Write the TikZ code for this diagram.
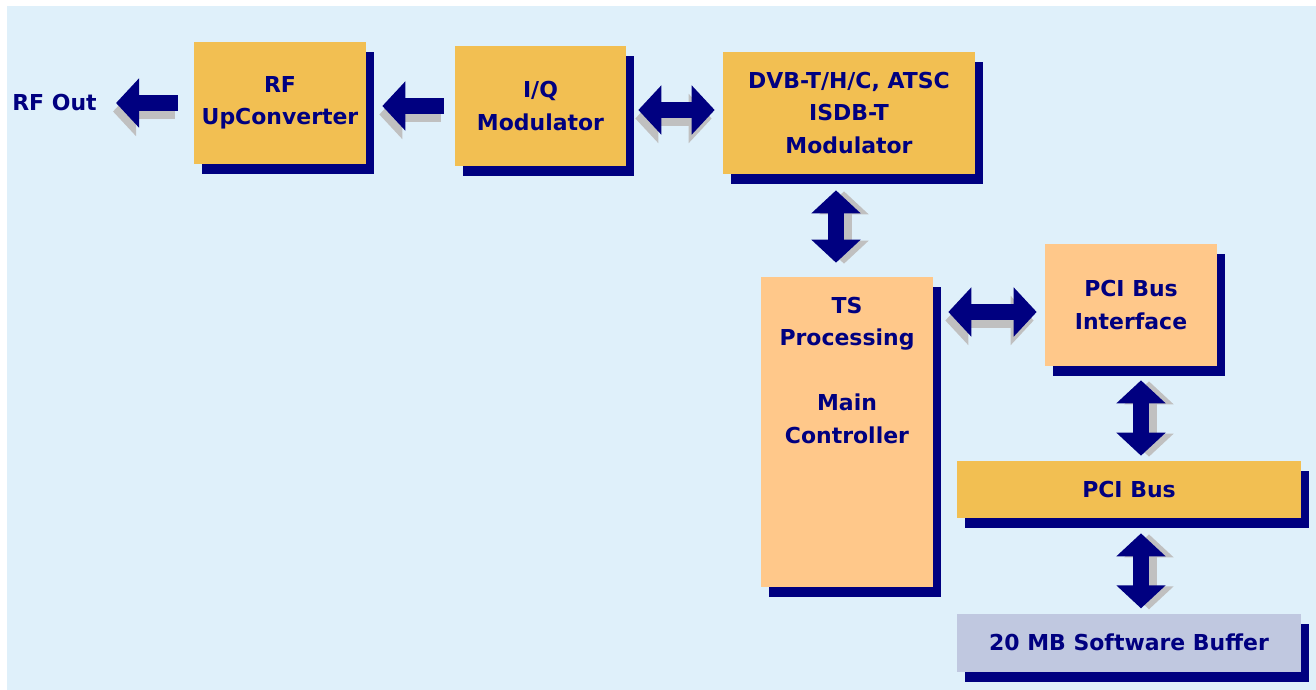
\documentclass[tikz,border=0pt]{standalone}
\usepackage{fontspec}
\setmainfont{DejaVu Sans}
\usetikzlibrary{positioning,shadows,arrows.meta}

\definecolor{navyblue}{RGB}{0,0,128}
\definecolor{boxgold}{RGB}{242,191,82}
\definecolor{boxpeach}{RGB}{255,200,138}
\definecolor{boxlilac}{RGB}{192,200,224}
\definecolor{shadegrey}{RGB}{192,192,192}
\definecolor{bgblue}{RGB}{223,240,250}

\begin{document}
\begin{tikzpicture}[x=0.02cm, y=-0.02cm,
                    label/.style={text=navyblue, font=\bfseries\fontsize{12.5}{18.5}\selectfont, align=center, inner sep=0pt},
                    box/.style={label, drop shadow={shadow xshift=0.16cm, shadow yshift=-0.2cm, fill=navyblue, opacity=1}},
                    gold/.style={box, fill=boxgold},
                    peach/.style={box, fill=boxpeach},
                    lilac/.style={box, fill=boxlilac},
                    onearrow/.style={line width=0.31cm, -{Triangle[width=0.96cm,length=0.46cm]}},
                    twoarrow/.style={line width=0.31cm, {Triangle[width=0.96cm,length=0.46cm]}-{Triangle[width=0.96cm,length=0.46cm]}},
                    hshade/.style={shadegrey, transform canvas={shift={(-0.06cm,-0.17cm)}}},
                    vshade/.style={shadegrey, transform canvas={shift={(0.16cm,-0.02cm)}}},
                ]
                %Background
                \fill[white]  (0,0) rectangle (1316,690);
                \fill[bgblue] (7,6) rectangle (1316,690);

                %Nodes
                \node[label]  (rfout) at (54.5,103)  {RF Out};
                \node[gold, minimum width=3.44cm, minimum height=2.44cm]  (rf)  at (280,103)   {RF\\UpConverter};
                \node[gold, minimum width=3.42cm, minimum height=2.4cm]   (iq)  at (540.5,106) {I/Q\\Modulator};
                \node[gold, minimum width=5.04cm, minimum height=2.44cm]  (dvb) at (849,113)   {DVB-T/H/C, ATSC\\ISDB-T\\Modulator};
                \node[peach, minimum width=3.44cm, minimum height=6.2cm]  (ts)  at (847,432)   {};
                \node[label, anchor=north] (tstext) [below=0.4cm of ts.north] {TS\\Processing\\[18.5pt]Main\\Controller};
                \node[peach, minimum width=3.44cm, minimum height=2.44cm] (pif) at (1131,305)  {PCI Bus\\Interface};
                \node[gold, minimum width=6.88cm, minimum height=1.14cm]  (bus) at (1129,489.5) {PCI Bus};
                \node[lilac, minimum width=6.88cm, minimum height=1.16cm] (buf) [below=1.9cm of bus] {20 MB Software Buffer};

                %Arrows
                \draw[onearrow, hshade, shorten <=0.32cm] (rf.west) -- ([xshift=0.38cm]rfout.east);
                \draw[onearrow, navyblue, shorten <=0.32cm] (rf.west) -- ([xshift=0.38cm]rfout.east);
                \draw[onearrow, hshade, shorten <=0.22cm, shorten >=0.32cm] (iq.west) -- (iq.west -| rf.east);
                \draw[onearrow, navyblue, shorten <=0.22cm, shorten >=0.32cm] (iq.west) -- (iq.west -| rf.east);
                \draw[twoarrow, hshade, shorten <=0.24cm, shorten >=0.16cm] ([yshift=-0.08cm]iq.east) -- ([yshift=-0.08cm]iq.east -| dvb.west);
                \draw[twoarrow, navyblue, shorten <=0.24cm, shorten >=0.16cm] ([yshift=-0.08cm]iq.east) -- ([yshift=-0.08cm]iq.east -| dvb.west);
                \draw[twoarrow, vshade, shorten <=0.28cm, shorten >=0.32cm] ([xshift=-0.22cm]ts.north) -- ([xshift=-0.22cm]ts.north |- dvb.south);
                \draw[twoarrow, navyblue, shorten <=0.28cm, shorten >=0.32cm] ([xshift=-0.22cm]ts.north) -- ([xshift=-0.22cm]ts.north |- dvb.south);
                \draw[twoarrow, hshade, shorten <=0.16cm, shorten >=0.3cm] ([yshift=-0.14cm]pif.west) -- ([yshift=-0.14cm]pif.west -| ts.east);
                \draw[twoarrow, navyblue, shorten <=0.16cm, shorten >=0.3cm] ([yshift=-0.14cm]pif.west) -- ([yshift=-0.14cm]pif.west -| ts.east);
                \draw[twoarrow, vshade, shorten <=0.28cm, shorten >=0.1cm] ([xshift=0.2cm]pif.south) -- ([xshift=0.2cm]pif.south |- bus.north);
                \draw[twoarrow, navyblue, shorten <=0.28cm, shorten >=0.1cm] ([xshift=0.2cm]pif.south) -- ([xshift=0.2cm]pif.south |- bus.north);
                \draw[twoarrow, vshade, shorten <=0.3cm, shorten >=0.1cm] ([xshift=0.24cm]bus.south) -- ([xshift=0.24cm]bus.south |- buf.north);
                \draw[twoarrow, navyblue, shorten <=0.3cm, shorten >=0.1cm] ([xshift=0.24cm]bus.south) -- ([xshift=0.24cm]bus.south |- buf.north);
            \end{tikzpicture}
\end{document}
